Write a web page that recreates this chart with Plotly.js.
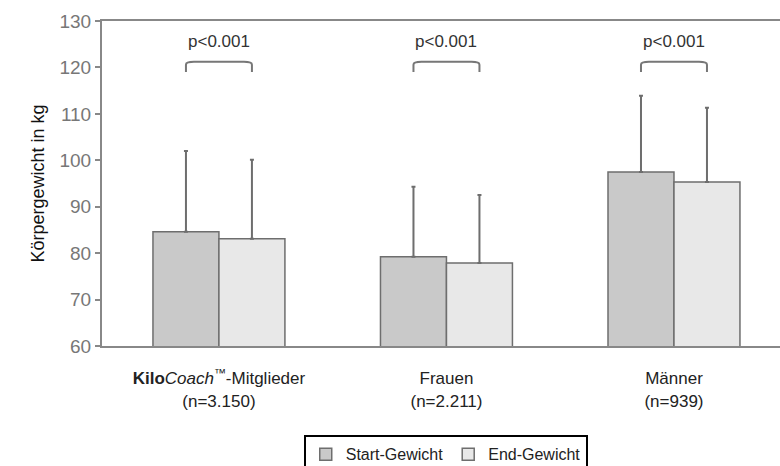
<!DOCTYPE html>
<html>
<head>
<meta charset="utf-8">
<script src="https://cdn.plot.ly/plotly-3.0.1.min.js"></script>
<style>html,body{margin:0;padding:0;background:#fff;}#chart{width:780px;height:466px;}</style>
</head>
<body>
<div id="chart"></div>
<script>
const categories = [
  '<b>Kilo</b><i>Coach</i><sup>™</sup>-Mitglieder<br>(n=3.150)',
  'Frauen<br>(n=2.211)',
  'Männer<br>(n=939)'
];
const seriesNames = ['Start-Gewicht', 'End-Gewicht'];
const startWeight = [84.6, 79.2, 97.5];
const endWeight = [83.1, 77.9, 95.3];
const startSD = [17.4, 15.1, 16.4];
const endSD = [17.0, 14.6, 16.0];
const pLabels = ['p<0.001', 'p<0.001', 'p<0.001'];
const yTicks = [60, 70, 80, 90, 100, 110, 120, 130];

const bargap = 0.42;
const half = (1 - bargap) / 4;
const outline = '#6e6e6e';
const FONT = 'Liberation Sans, Arial, sans-serif';

function trace(name, y, sd, color) {
  return {
    type: 'bar', name: name, x: categories, y: y,
    marker: {color: color, line: {color: outline, width: 1.5}},
    error_y: {type: 'data', symmetric: false, array: sd, arrayminus: sd.map(() => 0),
              color: outline, thickness: 2, width: 2},
    hoverinfo: 'skip'
  };
}

const data = [
  trace(seriesNames[0], startWeight, startSD, '#c9c9c9'),
  trace(seriesNames[1], endWeight, endSD, '#e8e8e8')
];

const bTop = 121.2, bBot = 119.0, r = 0.035;
const shapes = categories.map((c, i) => {
  const x0 = i - half, x1 = i + half;
  return {
    type: 'path', xref: 'x', yref: 'y',
    path: `M ${x0},${bBot} L ${x0},${bTop - 0.6} Q ${x0},${bTop} ${x0 + r},${bTop} L ${x1 - r},${bTop} Q ${x1},${bTop} ${x1},${bTop - 0.6} L ${x1},${bBot}`,
    line: {color: '#777', width: 2}
  };
});

const annotations = pLabels.map((t, i) => ({
  x: i, y: 125.6, xref: 'x', yref: 'y', text: t, showarrow: false,
  font: {family: FONT, size: 17, color: '#333'}
}));

const layout = {
  width: 780, height: 466,
  margin: {l: 102, r: 0, t: 21, b: 120},
  paper_bgcolor: '#fff', plot_bgcolor: '#fff',
  barmode: 'group', bargap: bargap, bargroupgap: 0,
  font: {family: FONT, color: '#222'},
  xaxis: {
    type: 'category', range: [-0.514, 2.466], automargin: false,
    showline: true, linecolor: '#888', linewidth: 2, mirror: true,
    ticks: '', showgrid: false, zeroline: false,
    ticklabelstandoff: 16,
    tickfont: {size: 17, color: '#222'}
  },
  yaxis: {
    range: [60, 130], tickvals: yTicks, ticktext: yTicks.map(String), automargin: false,
    showline: true, linecolor: '#888', linewidth: 2,
    ticks: 'outside', ticklen: 5, tickwidth: 2, tickcolor: '#888',
    showgrid: false, zeroline: false,
    tickfont: {size: 19, color: '#777'},
    title: {text: 'Körpergewicht in kg', font: {size: 18, color: '#111'}, standoff: 10}
  },
  showlegend: true,
  legend: {
    orientation: 'h', x: 0.507, xanchor: 'center',
    yref: 'container', y: 0.066, yanchor: 'top',
    bordercolor: '#000', borderwidth: 2, bgcolor: '#fff',
    font: {size: 16, color: '#222'}
  },
  shapes: shapes,
  annotations: annotations
};

Plotly.newPlot('chart', data, layout, {displayModeBar: false, staticPlot: true});
</script>
</body>
</html>
